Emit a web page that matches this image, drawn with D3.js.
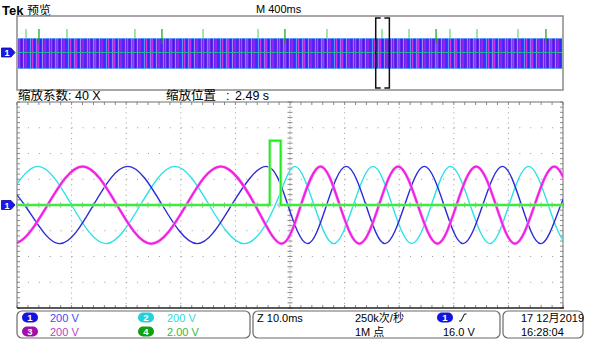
<!DOCTYPE html>
<html>
<head>
<meta charset="utf-8">
<script src="https://cdn.jsdelivr.net/npm/d3@7"></script>
<style>
body { margin: 0; background: #fff; }
svg { display: block; font-family: "Liberation Sans", "Noto Sans CJK SC", Arial, sans-serif; }
</style>
</head>
<body>
<div id="chartdiv"></div>
<script>
// key points [ms, V] (peaks and zero crossings)
var ch1 = [[-54.9,300],[-48.6,0],[-42.3,-300],[-36.0,0],[-29.7,300],[-23.4,0],[-17.0,-300],[-10.7,0],[-4.4,300],[-0.4,0],[3.2,-300],[6.7,0],[10.3,300],[13.9,0],[17.4,-300],[21.0,0],[24.6,300],[28.2,0],[31.7,-300],[35.3,0],[38.9,300],[42.4,0],[46.0,-300],[49.6,0],[53.2,300]];
var ch2 = [[-58.9,-300],[-52.6,0],[-46.3,300],[-40.0,0],[-33.7,-300],[-27.4,0],[-21.1,300],[-14.8,0],[-8.4,-300],[-2.7,0],[0.9,300],[4.4,0],[8.0,-300],[11.6,0],[15.2,300],[18.7,0],[22.3,-300],[25.9,0],[29.4,300],[33.0,0],[36.6,-300],[40.1,0],[43.7,300],[47.3,0],[50.9,-300],[54.4,0]];
var ch3 = [[-57.0,0],[-50.7,-300],[-44.4,0],[-38.0,300],[-31.7,0],[-25.4,-300],[-19.0,0],[-12.7,300],[-6.4,0],[-1.55,-300],[2.0,0],[5.6,300],[9.1,0],[12.7,-300],[16.3,0],[19.8,300],[23.4,0],[27.0,-300],[30.5,0],[34.1,300],[37.7,0],[41.2,-300],[44.8,0],[48.4,300],[51.9,0]];
var ch4 = [[-50,0],[-3.7,0],[-3.7,5],[-1.7,5],[-1.7,0],[50,0]];

// overview (seconds, relative to trigger)
var spikes = [-1.934,-1.839,-1.634,-1.136,-0.938,-0.637,-0.234,-0.037,0.271,0.674,0.872,1.070,1.172,1.370,1.670,1.875];
var darkSpikes = [-1.839,-0.938,-0.037,1.070,1.875];
var zoomCenter = 0.678, zoomWidth = 0.1;

var chLabels = [["1","200 V"],["2","200 V"],["3","200 V"],["4","2.00 V"]];
var infoTexts = ["Z 10.0ms","250k次/秒","1M 点","16.0 V","17 12月2019","16:28:04"];

var W = 590, H = 344;
var L = 17, R = 563, T = 102, B = 308;
var x = d3.scaleLinear().domain([-50,50]).range([L,R]);
var yV = d3.scaleLinear().domain([-800,800]).range([B,T]);
var y4 = d3.scaleLinear().domain([-8,8]).range([B,T]);
var xo = d3.scaleLinear().domain([-2,2]).range([L,R]);

var svg = d3.select('#chartdiv').append('svg')
 .attr('width', W).attr('height', H)
 .style('background','#fff');

var defs = svg.append('defs');
defs.append('clipPath').attr('id','clipMain')
 .append('rect').attr('x',L).attr('y',T).attr('width',R-L).attr('height',B-T);

// overview band texture
var pat = defs.append('pattern').attr('id','band')
 .attr('patternUnits','userSpaceOnUse').attr('width',19).attr('height',40);
pat.append('rect').attr('width',19).attr('height',40).attr('fill','#6a26ee');
[[0,1,'#d028ec'],[2,1.2,'#2626f6'],[4,0.8,'#a8a0ff'],[6.5,1,'#c020e8'],[8.5,1.5,'#3030ff'],
 [11,0.8,'#58b0ff'],[13,1,'#e030e0'],[15,1.3,'#2a2af0'],[17.4,0.8,'#b8a8ff']].forEach(function(s){
 pat.append('rect').attr('x',s[0]).attr('width',s[1]).attr('height',40).attr('fill',s[2]);
});

// ---- header
svg.append('text').attr('x',2).attr('y',15).text('Tek')
 .style('font-size','13px').style('font-weight','bold').attr('fill','#000');
svg.append('text').attr('x',27).attr('y',15).text('预览')
 .style('font-size','12px').attr('fill','#000');
svg.append('text').attr('x',xo(0)-34).attr('y',13).text('M 400ms')
 .style('font-size','11px').attr('fill','#000');
svg.append('path').attr('d','M'+(xo(0)-4)+',15.5 h8 l-4,4.5 z').attr('fill','#f0a030');

// ---- overview
var ov = svg.append('g');
ov.append('rect').attr('x',L).attr('y',16).attr('width',R-L).attr('height',74)
 .attr('fill','#fff').attr('stroke','#8a8a8a').attr('stroke-width',1.5);
ov.append('rect').attr('x',L+1).attr('y',38).attr('width',R-L-2).attr('height',31)
 .attr('fill','url(#band)');
ov.append('line').attr('x1',L+1).attr('x2',R-1).attr('y1',38.5).attr('y2',38.5)
 .attr('stroke','#60c8ff').attr('stroke-width',1).attr('opacity',0.7);
ov.append('line').attr('x1',L+1).attr('x2',R-1).attr('y1',68.5).attr('y2',68.5)
 .attr('stroke','#60c8ff').attr('stroke-width',1).attr('opacity',0.7);
ov.append('line').attr('x1',L+1).attr('x2',R-1).attr('y1',52.5).attr('y2',52.5)
 .attr('stroke','#28b090').attr('stroke-width',1);
ov.selectAll('.spk').data(spikes).enter().append('line')
 .attr('x1',function(d){return xo(d);}).attr('x2',function(d){return xo(d);})
 .attr('y1',29).attr('y2',function(d){return darkSpikes.indexOf(d)>=0 ? 44 : 38;})
 .attr('stroke',function(d){return darkSpikes.indexOf(d)>=0 ? '#10a010' : '#60d860';})
 .attr('stroke-width',1.2);
var bx1 = xo(zoomCenter - zoomWidth/2), bx2 = xo(zoomCenter + zoomWidth/2);
ov.append('path')
 .attr('d','M'+(bx1+5)+',18 H'+bx1+' V88 H'+(bx1+5)+' M'+(bx2-5)+',18 H'+bx2+' V88 H'+(bx2-5))
 .attr('fill','none').attr('stroke','#111').attr('stroke-width',1.5);

function marker(g, cy) {
 g.append('path')
  .attr('d','M1.5,'+(cy-4.5)+' H11 L15,'+cy+' L11,'+(cy+4.5)+' H1.5 Z')
  .attr('fill','#1a1ae8').attr('stroke','#0808a0').attr('stroke-width',0.8).attr('stroke-linejoin','round');
 g.append('text').attr('x',7).attr('y',cy+3.5).attr('text-anchor','middle').text('1')
  .style('font-size','9px').style('font-weight','bold').attr('fill','#fff');
}
marker(svg, 52.5);

// ---- zoom info
svg.append('text').attr('x',18).attr('y',100).text('缩放系数: 40 X')
 .style('font-size','12.5px').attr('fill','#000');
svg.append('text').attr('x',166).attr('y',100).text('缩放位置')
 .style('font-size','12.5px').attr('fill','#000');
svg.append('text').attr('x',226).attr('y',100).text(':')
 .style('font-size','12.5px').attr('fill','#000');
svg.append('text').attr('x',235).attr('y',100).text('2.49 s')
 .style('font-size','12.5px').attr('fill','#000');

// ---- graticule
var grid = svg.append('g');
var dx = (R-L)/10, dy = (B-T)/8;
grid.selectAll('.vg').data(d3.range(-40,50,10).filter(function(d){return d!==0;})).enter().append('line')
 .attr('x1',function(d){return x(d);}).attr('x2',function(d){return x(d);})
 .attr('y1',T).attr('y2',B)
 .attr('stroke','#9a9a9a').attr('stroke-width',1).attr('stroke-dasharray','1,'+(dy/5-1));
grid.selectAll('.hg').data(d3.range(-600,800,200).filter(function(d){return d!==0;})).enter().append('line')
 .attr('x1',L).attr('x2',R)
 .attr('y1',function(d){return yV(d);}).attr('y2',function(d){return yV(d);})
 .attr('stroke','#9a9a9a').attr('stroke-width',1).attr('stroke-dasharray','1,'+(dx/5-1));
// centre axes with minor ticks
grid.append('line').attr('x1',x(0)).attr('x2',x(0)).attr('y1',T).attr('y2',B)
 .attr('stroke','#9a9a9a').attr('stroke-dasharray','1,1.6');
grid.append('line').attr('x1',L).attr('x2',R).attr('y1',yV(0)).attr('y2',yV(0))
 .attr('stroke','#9a9a9a').attr('stroke-dasharray','1,1.6');
var vt = d3.range(0,41).map(function(i){return T + i*dy/5;});
var ht = d3.range(0,51).map(function(i){return L + i*dx/5;});
grid.selectAll('.ct1').data(vt).enter().append('line')
 .attr('x1',x(0)-2.5).attr('x2',x(0)+2.5).attr('y1',function(d){return d;}).attr('y2',function(d){return d;})
 .attr('stroke','#8a8a8a');
grid.selectAll('.ct2').data(ht).enter().append('line')
 .attr('y1',yV(0)-2.5).attr('y2',yV(0)+2.5).attr('x1',function(d){return d;}).attr('x2',function(d){return d;})
 .attr('stroke','#8a8a8a');
grid.selectAll('.et1').data(vt).enter().append('path')
 .attr('d',function(d){return 'M'+L+','+d+' h3 M'+R+','+d+' h-3';})
 .attr('stroke','#8a8a8a');
grid.selectAll('.et2').data(ht).enter().append('path')
 .attr('d',function(d){return 'M'+d+','+T+' v3 M'+d+','+B+' v-3';})
 .attr('stroke','#8a8a8a');
grid.append('path').attr('d','M'+L+','+B+' V'+T+' H'+R+' V'+B)
 .attr('fill','none').attr('stroke','#707070');
grid.append('line').attr('x1',L).attr('x2',R+1).attr('y1',B).attr('y2',B)
 .attr('stroke','#222').attr('stroke-width',1.6);

// ---- traces
var line = d3.line()
 .x(function(d){return x(d[0]);})
 .y(function(d){return yV(d[1]);})
 .curve(d3.curveNatural);
var line4 = d3.line()
 .x(function(d){return x(d[0]);})
 .y(function(d){return y4(d[1]);});

var tr = svg.append('g').attr('clip-path','url(#clipMain)');
tr.append('path').datum(ch2).attr('d',line)
 .attr('fill','none').attr('stroke','#2ee0e8').attr('stroke-width',1.4);
tr.append('path').datum(ch1).attr('d',line)
 .attr('fill','none').attr('stroke','#2a2ad8').attr('stroke-width',1.4);
tr.append('path').datum(ch3).attr('d',line)
 .attr('fill','none').attr('stroke','#f8a0f0').attr('stroke-width',3);
tr.append('path').datum(ch3).attr('d',line)
 .attr('fill','none').attr('stroke','#f020e4').attr('stroke-width',2);
tr.append('path').datum(ch4).attr('d',line4)
 .attr('fill','none').attr('stroke','#98f498').attr('stroke-width',3.2);
tr.append('path').datum(ch4).attr('d',line4)
 .attr('fill','none').attr('stroke','#22e822').attr('stroke-width',1.5);

marker(svg, yV(0));

// ---- info boxes
var info = svg.append('g');
[[17,233],[253,247],[503,80]].forEach(function(b){
 info.append('rect').attr('x',b[0]).attr('y',311).attr('width',b[1]).attr('height',27).attr('rx',5)
  .attr('fill','#fff').attr('stroke','#6a6a6a').attr('stroke-width',1.2);
});
var badgeCol = ['#1414e0','#22d2da','#a010a8','#10a010'];
var textCol = ['#4848f4','#30d8e0','#c03cc8','#38b838'];
chLabels.forEach(function(c,i){
 var bx = i%2===0 ? 22 : 138, tx = i%2===0 ? 50 : 167;
 var by = i<2 ? 312.5 : 326.5;
 info.append('rect').attr('x',bx).attr('y',by).attr('width',16).attr('height',10).attr('rx',5)
  .attr('fill',badgeCol[i]);
 info.append('text').attr('x',bx+8).attr('y',by+8.5).attr('text-anchor','middle').text(c[0])
  .style('font-size','9.5px').style('font-weight','bold').attr('fill','#fff');
 info.append('text').attr('x',tx).attr('y',by+9).text(c[1])
  .style('font-size','11px').attr('fill',textCol[i]);
});
info.append('text').attr('x',257).attr('y',321.5).text(infoTexts[0]).style('font-size','11px').attr('fill','#000');
info.append('text').attr('x',355).attr('y',321.5).text(infoTexts[1]).style('font-size','11px').attr('fill','#000');
info.append('text').attr('x',355).attr('y',335.5).text(infoTexts[2]).style('font-size','11px').attr('fill','#000');
info.append('rect').attr('x',437).attr('y',312.5).attr('width',16).attr('height',10).attr('rx',5).attr('fill',badgeCol[0]);
info.append('text').attr('x',445).attr('y',321).attr('text-anchor','middle').text('1')
 .style('font-size','9.5px').style('font-weight','bold').attr('fill','#fff');
info.append('path').attr('d','M459,321 h2 l3.5,-7 h2').attr('fill','none').attr('stroke','#000').attr('stroke-width',1);
info.append('text').attr('x',443).attr('y',335.5).text(infoTexts[3]).style('font-size','11px').attr('fill','#000');
info.append('text').attr('x',521).attr('y',321.5).text(infoTexts[4]).style('font-size','11px').attr('fill','#000');
info.append('text').attr('x',521).attr('y',335.5).text(infoTexts[5]).style('font-size','11px').attr('fill','#000');
</script>
</body>
</html>
